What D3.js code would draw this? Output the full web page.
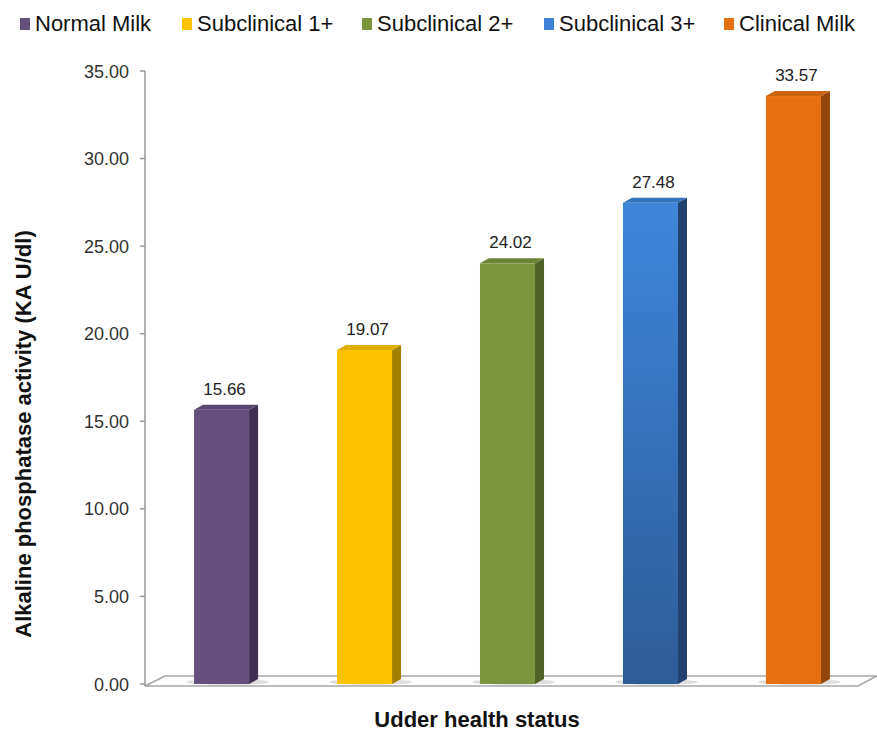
<!DOCTYPE html>
<meta charset="utf-8">
<head>
<title>Alkaline phosphatase</title>
<style>
body { margin:0; background:#fff; font-family: Arial, "Liberation Sans", sans-serif; }
</style>
</head>
<body>
<script src="https://d3js.org/d3.v7.min.js"></script>
<script>
// chart data
var categories = ["Normal Milk", "Subclinical 1+", "Subclinical 2+", "Subclinical 3+", "Clinical Milk"];
var values = [15.66, 19.07, 24.02, 27.48, 33.57];
var yTicks = [0, 5, 10, 15, 20, 25, 30, 35];
var frontColors = ["#644f7d", "#fdc300", "#7a953d", "#3d82d6", "#e6700f"];
var sideColors = ["#3f2f52", "#a57f00", "#4f6127", "#21426e", "#94470a"];
var legendX = [20, 182, 362, 544, 724];

var W = 877, H = 734;
var svg = d3.select("body").append("svg")
    .attr("width", W).attr("height", H);

var defs = svg.append("defs");
var g4 = defs.append("linearGradient").attr("id", "blueGrad")
    .attr("x1", 0).attr("y1", 0).attr("x2", 0).attr("y2", 1);
g4.append("stop").attr("offset", "0%").attr("stop-color", "#3f86da");
g4.append("stop").attr("offset", "100%").attr("stop-color", "#2d5c96");

// scales
var y = d3.scaleLinear().domain([0, 35]).range([684, 71]);
var x = d3.scaleBand().domain(categories).range([145, 870]).paddingInner(0.615).paddingOuter(0.343);

var depthX = 9, depthY = 5;

// floor
svg.append("path")
   .attr("d", "M145,686 L858,686 L877,676 L165,676 Z")
   .attr("fill", "#fff")
   .attr("stroke", "#a6a6a6")
   .attr("stroke-width", 1.5);

// y axis
svg.append("line")
   .attr("x1", 145).attr("x2", 145)
   .attr("y1", y(35)).attr("y2", 686)
   .attr("stroke", "#999").attr("stroke-width", 1.5);

svg.append("g").selectAll("line")
   .data(yTicks).enter().append("line")
   .attr("x1", 140).attr("x2", 145)
   .attr("y1", function(d){ return y(d); })
   .attr("y2", function(d){ return y(d); })
   .attr("stroke", "#999").attr("stroke-width", 1.5);

svg.append("g").selectAll("text")
   .data(yTicks).enter().append("text")
   .attr("x", 129)
   .attr("y", function(d){ return y(d) + 6.5; })
   .attr("text-anchor", "end")
   .attr("font-size", "18px")
   .attr("fill", "#333")
   .text(function(d){ return d.toFixed(2); });

// bars
var bars = svg.append("g").selectAll("g")
   .data(values).enter().append("g");

// shadow on floor
bars.append("ellipse")
   .attr("cx", function(d, i){ return x(categories[i]) + x.bandwidth()/2 + 6; })
   .attr("cy", 682)
   .attr("rx", x.bandwidth()*0.75)
   .attr("ry", 3)
   .attr("fill", "#bbb")
   .attr("opacity", 0.5);

// side face
bars.append("path")
   .attr("d", function(d, i){
      var x1 = x(categories[i]) + x.bandwidth();
      return "M" + x1 + "," + y(d) + " L" + (x1 + depthX) + "," + (y(d) - depthY) +
             " L" + (x1 + depthX) + "," + (y(0) - depthY) + " L" + x1 + "," + y(0) + " Z";
   })
   .attr("fill", function(d, i){ return sideColors[i]; });

// top face
bars.append("path")
   .attr("d", function(d, i){
      var x0 = x(categories[i]), x1 = x0 + x.bandwidth();
      return "M" + x0 + "," + y(d) + " L" + (x0 + depthX) + "," + (y(d) - depthY) +
             " L" + (x1 + depthX) + "," + (y(d) - depthY) + " L" + x1 + "," + y(d) + " Z";
   })
   .attr("fill", function(d, i){ return d3.color(frontColors[i]).darker(0.35); });

// front face
bars.append("rect")
   .attr("x", function(d, i){ return x(categories[i]); })
   .attr("y", function(d){ return y(d); })
   .attr("width", x.bandwidth())
   .attr("height", function(d){ return y(0) - y(d); })
   .attr("fill", function(d, i){ return i == 3 ? "url(#blueGrad)" : frontColors[i]; });

// value labels
bars.append("text")
   .attr("x", function(d, i){ return x(categories[i]) + x.bandwidth()/2 + 3; })
   .attr("y", function(d){ return y(d) - 15; })
   .attr("text-anchor", "middle")
   .attr("font-size", "17px")
   .attr("fill", "#222")
   .text(function(d){ return d.toFixed(2); });

// legend
var legend = svg.append("g").selectAll("g")
   .data(categories).enter().append("g")
   .attr("transform", function(d, i){ return "translate(" + legendX[i] + ",0)"; });

legend.append("rect")
   .attr("x", 0).attr("y", 18)
   .attr("width", 10).attr("height", 12)
   .attr("fill", function(d, i){ return frontColors[i]; });

legend.append("text")
   .attr("x", 15).attr("y", 31)
   .attr("font-size", "22px")
   .attr("fill", "#111")
   .text(function(d){ return d; });

// axis titles
svg.append("text")
   .attr("transform", "translate(31,434) rotate(-90)")
   .attr("text-anchor", "middle")
   .attr("font-size", "22px")
   .attr("font-weight", "bold")
   .attr("fill", "#111")
   .text("Alkaline phosphatase activity (KA U/dl)");

svg.append("text")
   .attr("x", 477).attr("y", 727)
   .attr("text-anchor", "middle")
   .attr("font-size", "22px")
   .attr("font-weight", "bold")
   .attr("fill", "#111")
   .text("Udder health status");
</script>
</body>
